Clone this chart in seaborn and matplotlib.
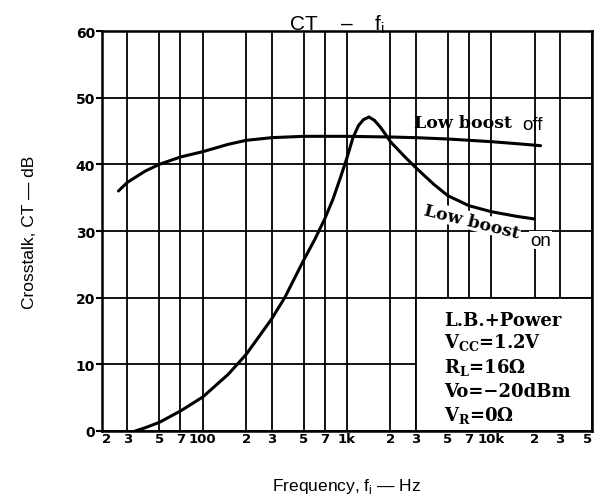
import matplotlib
matplotlib.use("Agg")
import matplotlib.pyplot as plt
import seaborn as sns
import pandas as pd
from matplotlib.ticker import NullLocator, FixedLocator, FixedFormatter
from matplotlib.patches import Rectangle

# ---- data ----
freq_off = [26, 30, 40, 50, 70, 100, 150, 200, 300, 500, 700, 1000, 2000, 3000, 5000, 10000, 15000, 22000]
ct_off = [36.0, 37.3, 39.0, 40.0, 41.1, 41.9, 43.0, 43.6, 44.0, 44.2, 44.2, 44.2, 44.1, 44.0, 43.8, 43.4, 43.1, 42.8]

freq_on = [34, 40, 50, 70, 100, 150, 200, 300, 370, 500, 600, 700, 800, 900, 1000, 1100, 1200, 1300,
           1420, 1550, 1700, 1850, 2000, 2500, 3000, 4000, 5000, 7000, 10000, 15000, 20000]
ct_on = [0.0, 0.5, 1.3, 3.0, 5.1, 8.5, 11.5, 16.8, 20.0, 25.6, 28.8, 31.8, 34.8, 38.0, 41.0, 44.0, 45.8, 46.7,
         47.1, 46.6, 45.6, 44.5, 43.4, 41.2, 39.5, 37.0, 35.3, 33.8, 32.9, 32.2, 31.8]

x_ticks = [20, 30, 50, 70, 100, 200, 300, 500, 700, 1000, 2000, 3000, 5000, 7000, 10000, 20000, 30000, 50000]
x_tick_labels = ["2", "3", "5", "7", "100", "2", "3", "5", "7", "1k", "2", "3", "5", "7", "10k", "2", "3", "5"]
y_ticks = [0, 10, 20, 30, 40, 50, 60]

cond_lines = ["L.B.+Power", r"V$_{\mathrm{CC}}$=1.2V", r"R$_{\mathrm{L}}$=16Ω", "Vo=−20dBm", r"V$_{\mathrm{R}}$=0Ω"]

df_off = pd.DataFrame({"f": freq_off, "ct": ct_off})
df_on = pd.DataFrame({"f": freq_on, "ct": ct_on})

sns.set_theme(style="white")
plt.rcParams["font.family"] = ["DejaVu Sans"]
plt.rcParams["mathtext.fontset"] = "custom"
plt.rcParams["mathtext.rm"] = "DejaVu Serif:bold"
plt.rcParams["mathtext.sf"] = "Liberation Sans"
plt.rcParams["text.color"] = "black"
plt.rcParams["axes.labelcolor"] = "black"

W, H = 595, 502
fig = plt.figure(figsize=(W / 100, H / 100), dpi=100)
L, R, T, B = 102, 592, 32, 432
ax = fig.add_axes([L / W, 1 - B / H, (R - L) / W, (B - T) / H])

ax.set_xscale("log")
ax.set_xlim(20, 50000)
ax.set_ylim(0, 60)

sns.lineplot(data=df_off, x="f", y="ct", ax=ax, color="black", lw=2.2, estimator=None, sort=True, zorder=4)
sns.lineplot(data=df_on, x="f", y="ct", ax=ax, color="black", lw=2.2, estimator=None, sort=True, zorder=4)

ax.xaxis.set_major_locator(FixedLocator(x_ticks))
ax.xaxis.set_major_formatter(FixedFormatter(x_tick_labels))
ax.xaxis.set_minor_locator(NullLocator())
ax.set_yticks(y_ticks)
ax.set_yticklabels([str(v) for v in y_ticks])

ax.set_axisbelow(True)
ax.grid(True, which="major", color="black", lw=1.3)
for s in ax.spines.values():
    s.set_color("black")
    s.set_linewidth(1.8)

ax.tick_params(axis="x", length=0, pad=1, labelsize=9.5, labelcolor="black")
ax.tick_params(axis="y", length=4, width=1.5, color="black", direction="out", pad=1,
               labelsize=10, labelcolor="black", left=True)
for lab in ax.get_xticklabels() + ax.get_yticklabels():
    lab.set_fontweight("bold")
xl = ax.get_xticklabels()
xl[-1].set_horizontalalignment("right")
xl[0].set_horizontalalignment("left")

# white condition box (covers the grid in the lower right)
ax.add_patch(Rectangle((3000, 0), 50000 - 3000, 20, facecolor="white", edgecolor="black",
                       lw=1.3, zorder=2))

ax.set_xlabel(r"Frequency, f$_{\mathsf{i}}$ — Hz", fontsize=12.5, family="Liberation Sans", labelpad=22)
ax.set_ylabel("Crosstalk, CT — dB", fontsize=12.5, family="Liberation Sans", labelpad=28)
ax.set_title(r"CT    –    f$_{\mathsf{i}}$", fontsize=15, family="Liberation Sans", pad=1, x=0.48)

def px(x, y):
    return x / W, 1 - y / H

serif = "DejaVu Serif"
ys = [321, 343, 367, 392, 415]
for txt, yy in zip(cond_lines, ys):
    fig.text(*px(444, yy), txt, fontsize=13, family=serif, weight="bold", va="center", ha="left",
             zorder=6)

# curve labels
fig.text(*px(414, 124), "Low boost", fontsize=12.5, family=serif, weight="bold", va="center", ha="left")
fig.text(*px(522, 125), "off", fontsize=13.5, family="Liberation Sans", va="center", ha="left")
fig.text(*px(472, 222), "Low boost", fontsize=12.5, family=serif, weight="bold", va="center", ha="center",
         rotation=-14, rotation_mode="anchor",
         bbox=dict(facecolor="white", edgecolor="none", pad=0.5))
fig.text(*px(530, 241), "on", fontsize=13.5, family="Liberation Sans", va="center", ha="left",
         bbox=dict(facecolor="white", edgecolor="none", pad=0.5))

fig.savefig("out.png", dpi=100, facecolor="white")
